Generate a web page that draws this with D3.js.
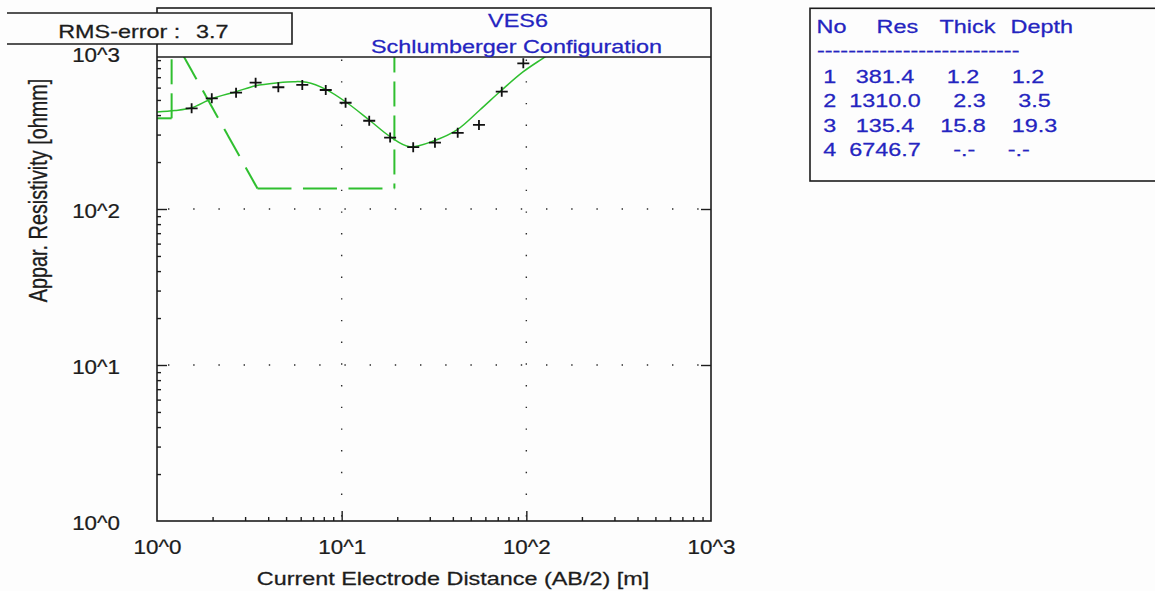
<!DOCTYPE html>
<html>
<head>
<meta charset="utf-8">
<script src="https://cdn.jsdelivr.net/npm/d3@7"></script>
<style>
  html, body { margin: 0; padding: 0; background: #fdfdfd; }
  svg { display: block; }
  text { font-family: "Liberation Sans", Arial, sans-serif; }
</style>
</head>
<body>
<svg id="chart" width="1155" height="591"></svg>
<script>
// Field sounding: half current-electrode spacing AB/2 [m] and apparent resistivity [ohm·m]
const abHalf = [1.54, 1.98, 2.68, 3.42, 4.54, 6.12, 8.2, 10.5, 14.1, 18.3, 24.4, 32.0, 42.5, 55.4, 73.6, 96.3];
const rhoObs = [442, 512, 557, 645, 603, 624, 579, 480, 368, 287, 249, 266, 308, 346, 565, 859];

// Calculated response of the fitted layer model
const fitAB  = [1.0, 1.25, 1.54, 1.98, 2.68, 3.42, 4.54, 5.48, 6.46, 8.2, 10.5, 14.1, 18.3, 23.4, 32.0, 42.1, 56.0, 73.6, 96.3, 123, 152];
const fitRho = [419, 428, 446, 509, 565, 617, 645, 655, 649, 585, 487, 372, 291, 251, 275, 321, 431, 579, 759, 925, 1093];

// Layer model (resistivity [ohm·m], thickness [m], depth to bottom [m])
const layerNo    = [1, 2, 3, 4];
const layerRes   = [381.4, 1310.0, 135.4, 6746.7];
const layerThick = [1.2, 2.3, 15.8, null];
const layerDepth = [1.2, 3.5, 19.3, null];

const rmsError   = 3.7;
const siteName   = "VES6";
const configName = "Schlumberger Configuration";
const decades    = [1, 10, 100, 1000];
const tableHead  = ["No", "Res", "Thick", "Depth"];

const xTitle = "Current Electrode Distance (AB/2) [m]";
const yTitle = "Appar. Resistivity [ohmm]";

// ---------------------------------------------------------------------------
const svg = d3.select("#chart");
const INK = "#1c1c1c";
const BLUE = "#2424c0";
const GREEN = "#2fbf2f";
const SX = 1.3;           // horizontal stretch of the lettering

const P = { left: 157, right: 711, top: 57, bottom: 521, frameTop: 8 };

const x = d3.scaleLog().domain([1, 1000]).range([P.left, P.right]);
const y = d3.scaleLog().domain([1, 1000]).range([P.bottom, 53]);

const fmtExp = d => "10^" + Math.round(Math.log10(d));

function label(parent, tx, ty, str, opts = {}) {
  const { size = 18, anchor = "start", fill = INK, sx = SX, rotate = 0 } = opts;
  return parent.append("text")
    .attr("transform", `translate(${tx},${ty}) scale(${sx},1)` + (rotate ? ` rotate(${rotate})` : ""))
    .attr("text-anchor", anchor)
    .attr("xml:space", "preserve")
    .style("white-space", "pre")
    .style("font-size", size + "px")
    .attr("fill", fill)
    .attr("stroke", fill).attr("stroke-width", 0.25)
    .text(str);
}

svg.append("defs").append("clipPath").attr("id", "plotClip")
  .append("rect")
  .attr("x", P.left).attr("y", P.top)
  .attr("width", P.right - P.left).attr("height", P.bottom - P.top);

// Dotted grid at the decades
const grid = svg.append("g").attr("fill", "none").attr("stroke", "#2a2a2a").attr("stroke-width", 1.4);
grid.selectAll("line.gh").data([10, 100]).join("line").attr("class", "gh")
  .attr("x1", 168).attr("x2", P.right)
  .attr("y1", d => y(d)).attr("y2", d => y(d))
  .attr("stroke-dasharray", "1.4,23.8");
grid.selectAll("line.gv").data([10, 100]).join("line").attr("class", "gv")
  .attr("x1", d => x(d)).attr("x2", d => x(d))
  .attr("y1", 59.5).attr("y2", P.bottom)
  .attr("stroke-dasharray", "1.4,20.3");

// Tick marks
const minorVals = d3.range(0, 3).flatMap(e => d3.range(2, 10).map(m => m * Math.pow(10, e)));
function tickAxis(axis, tx, ty) {
  const g = svg.append("g").attr("transform", `translate(${tx},${ty})`).call(axis);
  g.select(".domain").remove();
  g.selectAll("line").attr("stroke", INK).attr("stroke-width", 1.4);
  g.selectAll("text").remove();
  return g;
}
tickAxis(d3.axisBottom(x).tickValues(minorVals).tickSizeInner(-4).tickSizeOuter(0), 0, P.bottom);
tickAxis(d3.axisBottom(x).tickValues([10, 100]).tickSizeInner(-10).tickSizeOuter(0), 0, P.bottom);
tickAxis(d3.axisLeft(y).tickValues(minorVals.filter(v => y(v) > P.top + 1)).tickSizeInner(-4).tickSizeOuter(0), P.left, 0);
tickAxis(d3.axisLeft(y).tickValues([10, 100]).tickSizeInner(-10).tickSizeOuter(0), P.left, 0);
tickAxis(d3.axisRight(y).tickValues([10, 100]).tickSizeInner(-10).tickSizeOuter(0), P.right, 0);

// Tick labels
function styleTickText(sel, transform, anchor) {
  sel.attr("x", null).attr("y", null).attr("dy", null)
    .attr("transform", transform)
    .attr("text-anchor", anchor)
    .attr("fill", INK).attr("stroke", INK).attr("stroke-width", 0.25)
    .style("font-size", "20px")
    .style("font-family", "'Liberation Sans', Arial, sans-serif");
}
const xLab = svg.append("g").attr("transform", `translate(0,${P.bottom})`)
  .call(d3.axisBottom(x).tickValues(decades).tickSize(0).tickFormat(fmtExp));
xLab.select(".domain").remove();
styleTickText(xLab.selectAll("text"), "translate(0,32.5) scale(1.12,1)", "middle");

const yLab = svg.append("g").attr("transform", `translate(${P.left},0)`)
  .call(d3.axisLeft(y).tickValues(decades).tickSize(0).tickFormat(fmtExp));
yLab.select(".domain").remove();
styleTickText(yLab.selectAll("text"), "translate(-37,8) scale(1.12,1)", "end");

// Data layer
const plotG = svg.append("g").attr("clip-path", "url(#plotClip)");

// Split a straight stroke into dash pieces (on/off lengths, phase into the pattern)
function dashPieces(x1, y1, x2, y2, on, off, phase) {
  const len = Math.hypot(x2 - x1, y2 - y1);
  const ux = (x2 - x1) / len, uy = (y2 - y1) / len;
  const period = on + off;
  const pieces = [];
  let s = -(phase % period);
  while (s < len) {
    const a = Math.max(s, 0), b = Math.min(s + on, len);
    if (b > a) pieces.push([x1 + ux * a, y1 + uy * a, x1 + ux * b, y1 + uy * b]);
    s += period;
  }
  return pieces;
}

// Layer model drawn as a dashed polyline; the dash pattern restarts at every vertex
const modelPts = [
  [x.domain()[0], layerRes[0]],
  [layerDepth[0], layerRes[0]],
  [layerDepth[0], layerRes[1]],
  [layerDepth[1], layerRes[2]],
  [layerDepth[2], layerRes[2]],
  [layerDepth[2], layerRes[3]]
];
const modelDashes = d3.pairs(modelPts).flatMap(([a, b]) => {
  const x1 = x(a[0]), y1 = y(a[1]), x2 = x(b[0]), y2 = y(b[1]);
  if (Math.abs(y2 - y1) < 0.5) return dashPieces(x1, y1, x2, y2, 34, 11.5, 0);   // horizontal
  if (Math.abs(x2 - x1) < 0.5) {                                                    // vertical
    return dashPieces(x1, y1, x2, y2, 25, 9, a[1] < b[1] && y1 < 150 ? 0 : 20);
  }
  return dashPieces(x1, y1, x2, y2, 31, 13, 24);                                    // sloping
});
plotG.selectAll("line.model").data(modelDashes).join("line").attr("class", "model")
  .attr("x1", d => d[0]).attr("y1", d => d[1]).attr("x2", d => d[2]).attr("y2", d => d[3])
  .attr("stroke", GREEN).attr("stroke-width", 2);

// Calculated curve
const curve = d3.line().x(d => x(d[0])).y(d => y(d[1])).curve(d3.curveCatmullRom.alpha(0.5));
plotG.append("path")
  .datum(d3.zip(fitAB, fitRho))
  .attr("d", curve)
  .attr("fill", "none").attr("stroke", GREEN).attr("stroke-width", 1.5);

// Observed points as crosses
plotG.selectAll("path.obs").data(d3.zip(abHalf, rhoObs)).join("path").attr("class", "obs")
  .attr("d", d => `M${x(d[0]) - 6},${y(d[1])}h12M${x(d[0])},${y(d[1]) - 5}v10`)
  .attr("stroke", "#111").attr("stroke-width", 1.8).attr("fill", "none");

// Frame and title strip
svg.append("rect")
  .attr("x", P.left).attr("y", P.frameTop)
  .attr("width", P.right - P.left).attr("height", P.bottom - P.frameTop)
  .attr("fill", "none").attr("stroke", INK).attr("stroke-width", 1.6);
svg.append("line")
  .attr("x1", P.left).attr("x2", P.right).attr("y1", P.top).attr("y2", P.top)
  .attr("stroke", INK).attr("stroke-width", 1.6);

label(svg, 518, 26.5, siteName, { anchor: "middle", fill: BLUE });
label(svg, 516.5, 53, configName, { anchor: "middle", fill: BLUE });

// RMS error box
svg.append("rect").attr("x", 7).attr("y", 13).attr("width", 285).attr("height", 31).attr("fill", "#fdfdfd");
svg.append("path").attr("d", "M7,13H292V44H7")
  .attr("fill", "none").attr("stroke", INK).attr("stroke-width", 1.6);
label(svg, 58.2, 37.5, "RMS-error :");
label(svg, 196, 37.5, rmsError.toFixed(1));

// Axis titles
label(svg, 453, 585, xTitle, { anchor: "middle" });
label(svg, 46.7, 190.5, yTitle, { anchor: "middle", size: 19.8, rotate: -90 });

// Layer table
svg.append("rect").attr("x", 810).attr("y", 8.3).attr("width", 400).attr("height", 172.7)
  .attr("fill", "none").attr("stroke", INK).attr("stroke-width", 1.6);
const headX = [816.5, 876.5, 939.5, 1010.5];
tableHead.forEach((h, i) => label(svg, headX[i], 33.3, h, { fill: BLUE }));
label(svg, 817, 57, "-".repeat(26), { fill: BLUE });

const pad = (s, n) => String(s).padStart(n, " ");
const cell = v => (v == null ? "-.-" : v.toFixed(1));
layerNo.forEach((n, i) => {
  const row = String(n) + pad(layerRes[i].toFixed(1), 8) + pad(cell(layerThick[i]), 8) + pad(cell(layerDepth[i]), 8);
  label(svg, 823.2, 82.5 + 24.6 * i, row, { fill: BLUE });
});
</script>
</body>
</html>
